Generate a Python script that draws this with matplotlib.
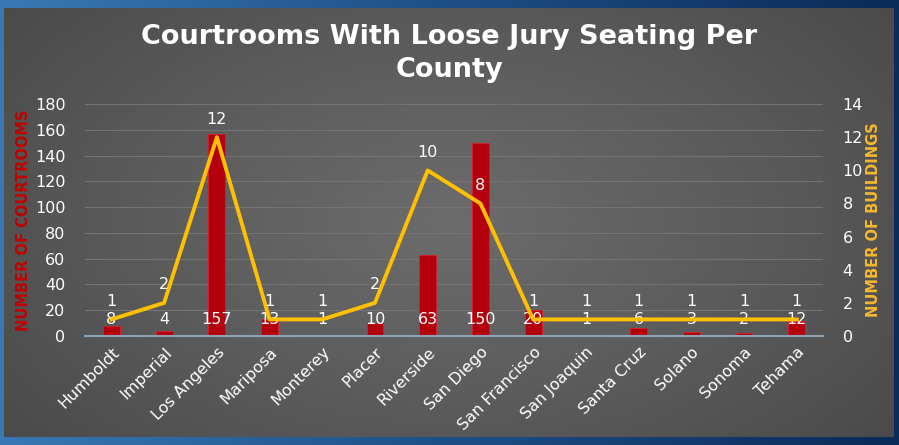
import numpy as np
import matplotlib.pyplot as plt
from matplotlib.colors import LinearSegmentedColormap

# chart data
counties = ['Humboldt', 'Imperial', 'Los Angeles', 'Mariposa', 'Monterey', 'Placer',
            'Riverside', 'San Diego', 'San Francisco', 'San Joaquin', 'Santa Cruz',
            'Solano', 'Sonoma', 'Tehama']
courtrooms = [8, 4, 157, 13, 1, 10, 63, 150, 20, 1, 6, 3, 2, 12]
buildings = [1, 2, 12, 1, 1, 2, 10, 8, 1, 1, 1, 1, 1, 1]

fig = plt.figure(figsize=(8.99, 4.45), dpi=100)

# blue backdrop
bg = fig.add_axes([0, 0, 1, 1], zorder=-3)
gx = np.linspace(0, 1, 300)
blue = np.outer(np.ones(50), gx)
bg.imshow(blue, cmap=LinearSegmentedColormap.from_list('b', ['#3a78b5', '#1d4f85', '#0b2b58']),
          aspect='auto', extent=[0, 1, 0, 1])
bg.axis('off')

# gray panel, lighter in the middle
panel = fig.add_axes([0.0044, 0.018, 0.989, 0.964], zorder=-2)
xx, yy = np.meshgrid(np.linspace(-1, 1, 400), np.linspace(-1, 1, 200))
rr = np.sqrt(xx ** 2 + (yy * 0.8) ** 2)
panel.imshow(rr, cmap=LinearSegmentedColormap.from_list('g', ['#6c6c6c', '#5c5c5c', '#4a4a4a']),
             aspect='auto', vmin=0, vmax=1.3)
panel.axis('off')

ax = fig.add_axes([0.0946, 0.245, 0.821, 0.521])
ax.patch.set_alpha(0)
x = np.arange(len(counties))
ax.bar(x, courtrooms, width=0.32, color='#b4000d', edgecolor='#d8202c', linewidth=0.6, zorder=2)
ax.set_ylim(0, 180)
ax.set_xlim(-0.5, len(counties) - 0.5)
ax.set_yticks(range(0, 181, 20))
ax.grid(axis='y', color='#737373', linewidth=0.8, zorder=0)
ax.set_axisbelow(True)
for s in ['top', 'right', 'left']:
    ax.spines[s].set_visible(False)
ax.spines['bottom'].set_color('#8fa3b5')
ax.spines['bottom'].set_linewidth(1.5)
ax.tick_params(axis='both', length=0, colors='white', labelsize=11.5)
ax.tick_params(axis='y', pad=14)
ax.set_xticks(x)
ax.set_xticklabels(counties, rotation=45, ha='right', va='top', rotation_mode='anchor')
ax.tick_params(axis='x', pad=6)
ax.set_ylabel('NUMBER OF COURTROOMS', color='#c00000', fontweight='bold', fontsize=10.5,
              family='DejaVu Sans', labelpad=3)

for xi, v in zip(x, courtrooms):
    ax.annotate(str(v), (xi, 0), xytext=(0, 16), textcoords='offset pixels',
                ha='center', va='center', color='white', fontsize=11.5, zorder=5)

ax2 = ax.twinx()
ax2.plot(x, buildings, color='#ffc000', linewidth=2.8, zorder=3)
ax2.set_ylim(0, 14)
ax2.set_yticks(range(0, 15, 2))
for s in ['top', 'right', 'left', 'bottom']:
    ax2.spines[s].set_visible(False)
ax2.tick_params(axis='y', length=0, colors='white', labelsize=11.5, pad=14)
ax2.set_ylabel('NUMBER OF BUILDINGS', color='#f5b82e', fontweight='bold', fontsize=10.5,
               family='DejaVu Sans', labelpad=2)
for xi, v in zip(x, buildings):
    ax2.annotate(str(v), (xi, v), xytext=(0, 18), textcoords='offset pixels',
                 ha='center', va='center', color='white', fontsize=11.5)

fig.text(0.5, 0.917, 'Courtrooms With Loose Jury Seating Per', ha='center', va='center',
         color='white', fontsize=19.5, fontweight='bold', family='DejaVu Sans')
fig.text(0.5, 0.843, 'County', ha='center', va='center',
         color='white', fontsize=19.5, fontweight='bold', family='DejaVu Sans')

fig.savefig('out.png', dpi=100)
